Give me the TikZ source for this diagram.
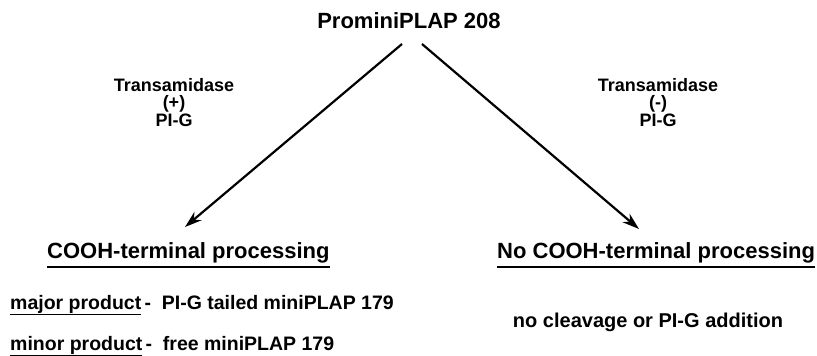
\documentclass[tikz,border=0pt]{standalone}
\usepackage{fontspec}
\setmainfont{Liberation Sans}
\usetikzlibrary{arrows.meta}
\begin{document}
\begin{tikzpicture}[x=1pt,y=-1pt,
  txt/.style={inner sep=0pt, font=\bfseries},
  ftitle/.style={font=\bfseries\fontsize{22}{26}\selectfont},
  flab/.style={font=\bfseries\fontsize{18}{17.5}\selectfont, align=center},
  fhead/.style={font=\bfseries\fontsize{22}{26}\selectfont},
  fbody/.style={font=\bfseries\fontsize{19.5}{22}\selectfont},
  arr/.style={line width=2.2pt, -{Stealth[length=17pt,width=11pt]}},
  uln/.style={line width=2.2pt}]
\useasboundingbox (0,0) rectangle (817,356);
\node[txt, ftitle, anchor=base] (title) at (409,28) {ProminiPLAP 208};
\node[txt, flab, anchor=base] (tl) at (174,126) {Transamidase\\(+)\\PI-G};
\node[txt, flab, anchor=base] (tr) at (658,126) {Transamidase\\(-)\\PI-G};
\coordinate (ls) at (402,44);
\coordinate (rs) at (422,44);
\coordinate (le) at (185,227);
\coordinate (re) at (639,229);
\draw[arr] (ls) -- (le);
\draw[arr] (rs) -- (re);
\node[txt, fhead, anchor=base west] (hl) at (47,258) {COOH-terminal processing};
\node[txt, fhead, anchor=base west] (hr) at (497,258) {No COOH-terminal processing};
\draw[uln] (hl.base west) ++(0,9) -- ([yshift=-9pt]hl.base east);
\draw[uln] (hr.base west) ++(0,9) -- ([yshift=-9pt]hr.base east);
\node[txt, fbody, anchor=base west] (maj) at (10,309) {\underline{major product}\,-\ \ PI-G tailed miniPLAP 179};
\node[txt, fbody, anchor=base west] (min) at (10,350) {\underline{minor product}\,-\ \ free miniPLAP 179};
\node[txt, fbody, font=\bfseries\fontsize{20}{22}\selectfont, anchor=base] (nc) at (648,327) {no cleavage or PI-G addition};
\end{tikzpicture}
\end{document}
